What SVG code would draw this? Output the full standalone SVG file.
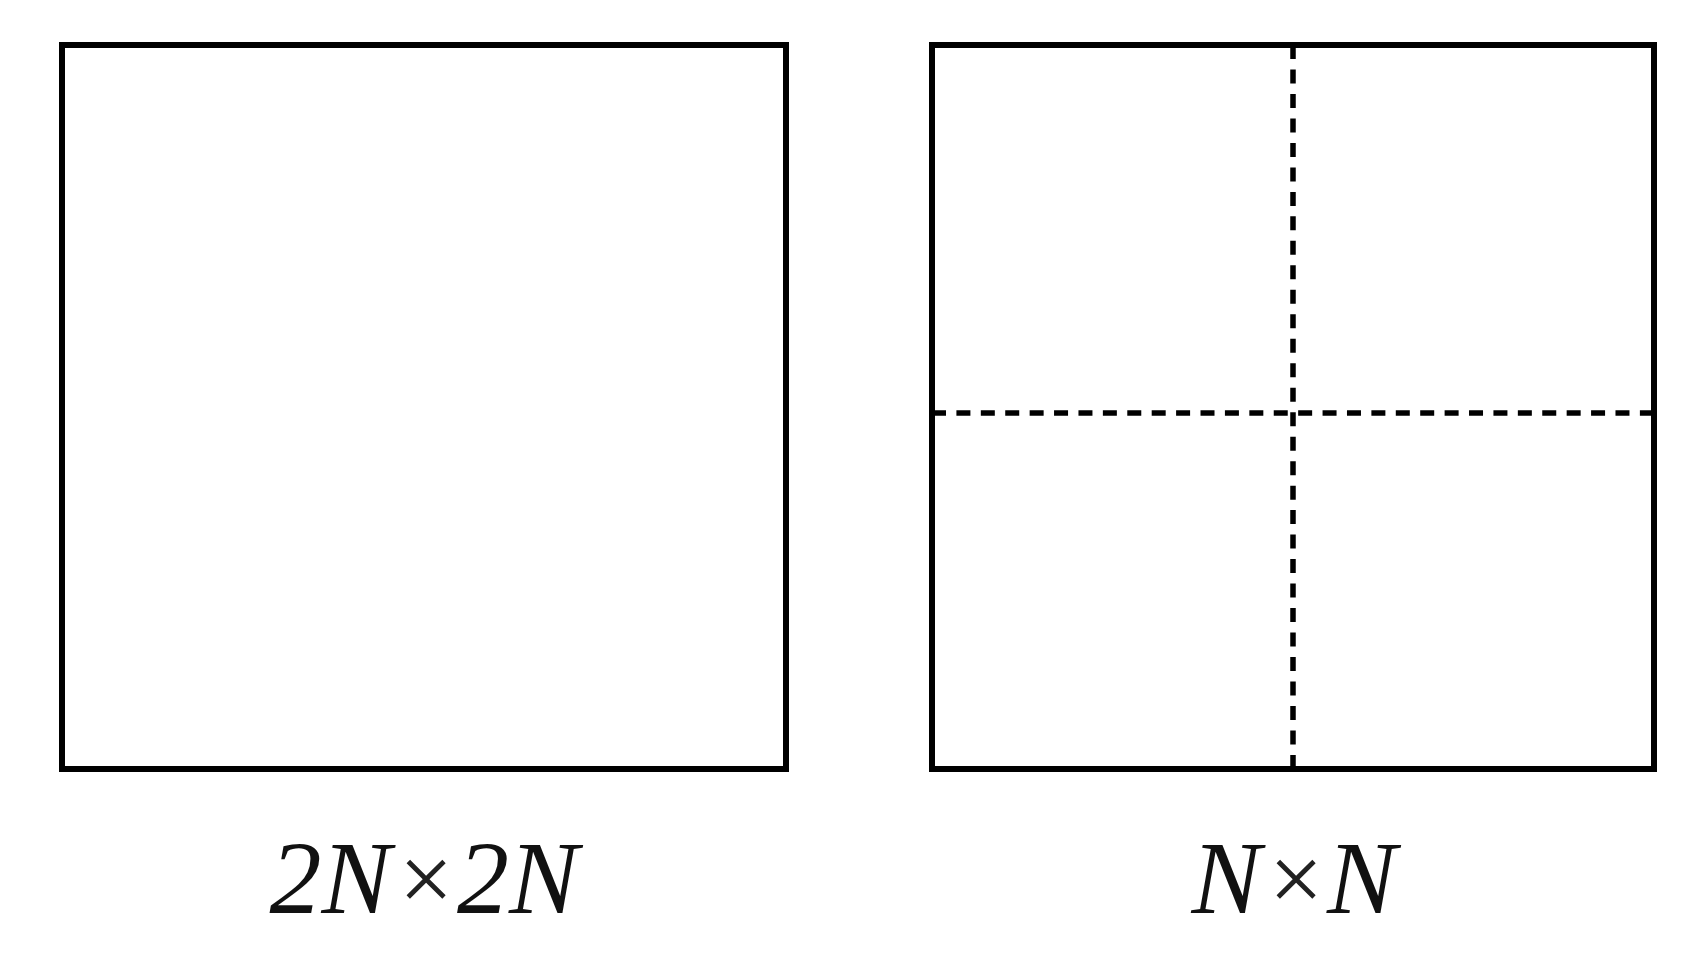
<svg xmlns="http://www.w3.org/2000/svg" width="1689" height="978" viewBox="0 0 1689 978">
<style>
.box{fill:none;stroke:#000;stroke-width:6;stroke-linejoin:miter}
.dash{stroke:#000;stroke-width:5.5}
.lbl{font-family:'Liberation Serif','Times New Roman',Times,serif;font-size:104px;fill:#111}
.it{font-style:italic}
.x{font-size:96px;fill:#222}
</style>
<rect width="1689" height="978" fill="#fff"/>
<g id="node-2Nx2N">
<rect class="box" x="62" y="45" width="724" height="724"/>
<text class="lbl" x="424" y="913" text-anchor="middle"><tspan class="it">2N</tspan><tspan class="x" dx="8" dy="-2">×</tspan><tspan class="it" dx="4" dy="2">2N</tspan></text>
</g>
<g id="node-NxN">
<rect class="box" x="932" y="45" width="722" height="724"/>
<text class="lbl" x="1294" y="913" text-anchor="middle"><tspan class="it">N</tspan><tspan class="x" dx="8" dy="-2">×</tspan><tspan class="it" dx="4" dy="2">N</tspan></text>
</g>
<g id="connectors">
<line class="dash" x1="1293" y1="45" x2="1293" y2="769" stroke-dasharray="14 10.48"/>
<line class="dash" x1="932" y1="413" x2="1654" y2="413" stroke-dasharray="14 10.41"/>
</g>
</svg>
